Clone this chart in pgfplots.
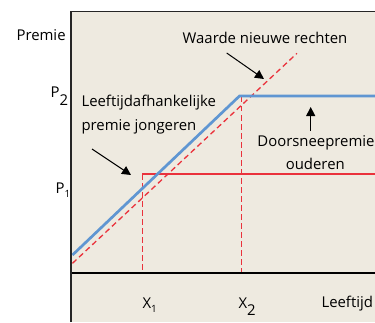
\documentclass[border=0pt]{standalone}
\usepackage{pgfplots}
\pgfplotsset{compat=1.18}
\usetikzlibrary{arrows.meta}
\usepackage{fontspec}
\setmainfont{Open Sans}
\definecolor{bg}{RGB}{238,234,224}
\definecolor{lred}{RGB}{234,50,60}
\definecolor{lblue}{RGB}{95,150,210}
\definecolor{txt}{RGB}{25,25,25}
\begin{document}
\begin{tikzpicture}
\useasboundingbox (0,0) rectangle (375pt,322pt);
\begin{axis}[at={(70pt,0pt)}, anchor=south west, scale only axis,
  width=305pt, height=311pt, xmin=70, xmax=375, ymin=0, ymax=311,
  axis line style={draw=none}, ticks=none, clip=false,
  axis background/.style={fill=bg},
  every node/.style={text=txt, inner sep=0pt},
  font=\fontsize{14.9}{17}\selectfont]
% red lines
\addplot[lred, line width=1.3pt, dash pattern=on 5.5pt off 3.5pt] coordinates {(72.5,58.7) (297,268.7)};
\addplot[lred, line width=1.4pt, dash pattern=on 5.5pt off 3.5pt] coordinates {(142.5,148) (142.5,49)};
\addplot[lred, line width=1.4pt, dash pattern=on 5.5pt off 3.5pt] coordinates {(241.5,225) (241.5,49)};
\addplot[lred, line width=1.3pt] coordinates {(142,148) (375,148)};
% blue line
\addplot[lblue, line width=2.7pt] coordinates {(72.5,67) (239.5,226) (375,226)};
% frame
\draw[line width=1.8pt, black] (axis cs:70,48.7) -- (axis cs:375,48.7);
\draw[line width=1.7pt, black!85] (axis cs:70.8,0) -- (axis cs:70.8,311);
\draw[line width=1.1pt, black!85] (axis cs:70,310.5) -- (axis cs:375,310.5);
% arrows
\draw[line width=1pt, black, -{Triangle[length=9pt,width=9pt]}] (axis cs:226.7,269) -- (axis cs:264,243);
\draw[line width=1pt, black, -{Triangle[length=9pt,width=9pt]}] (axis cs:92,173) -- (axis cs:131,147);
\draw[line width=1pt, black, -{Triangle[length=9pt,width=9pt]}] (axis cs:310.7,191) -- (axis cs:310.7,215);
% texts
\node[anchor=base west] at (axis cs:13,281.3) {Premie};
\node[anchor=base] at (axis cs:265,278.7) {Waarde nieuwe rechten};
\node[anchor=base west] at (axis cs:78,215) {Leeftijdafhankelijke};
\node[anchor=base west] at (axis cs:78,192) {premie jongeren};
\node[anchor=base] at (axis cs:316,175.3) {Doorsneepremie};
\node[anchor=base] at (axis cs:315.3,153) {ouderen};
\node[anchor=base west] at (axis cs:47,224) {P\raisebox{-8pt}{2}};
\node[anchor=base west] at (axis cs:52,129) {P\raisebox{-4pt}{\fontsize{10}{10}\selectfont 1}};
\node[anchor=base west] at (axis cs:139,14) {X\raisebox{-4pt}{\fontsize{10}{10}\selectfont 1}};
\node[anchor=base west] at (axis cs:235,14) {X\raisebox{-7pt}{2}};
\node[anchor=base west] at (axis cs:318,15) {Leeftijd};
\end{axis}
\end{tikzpicture}
\end{document}
